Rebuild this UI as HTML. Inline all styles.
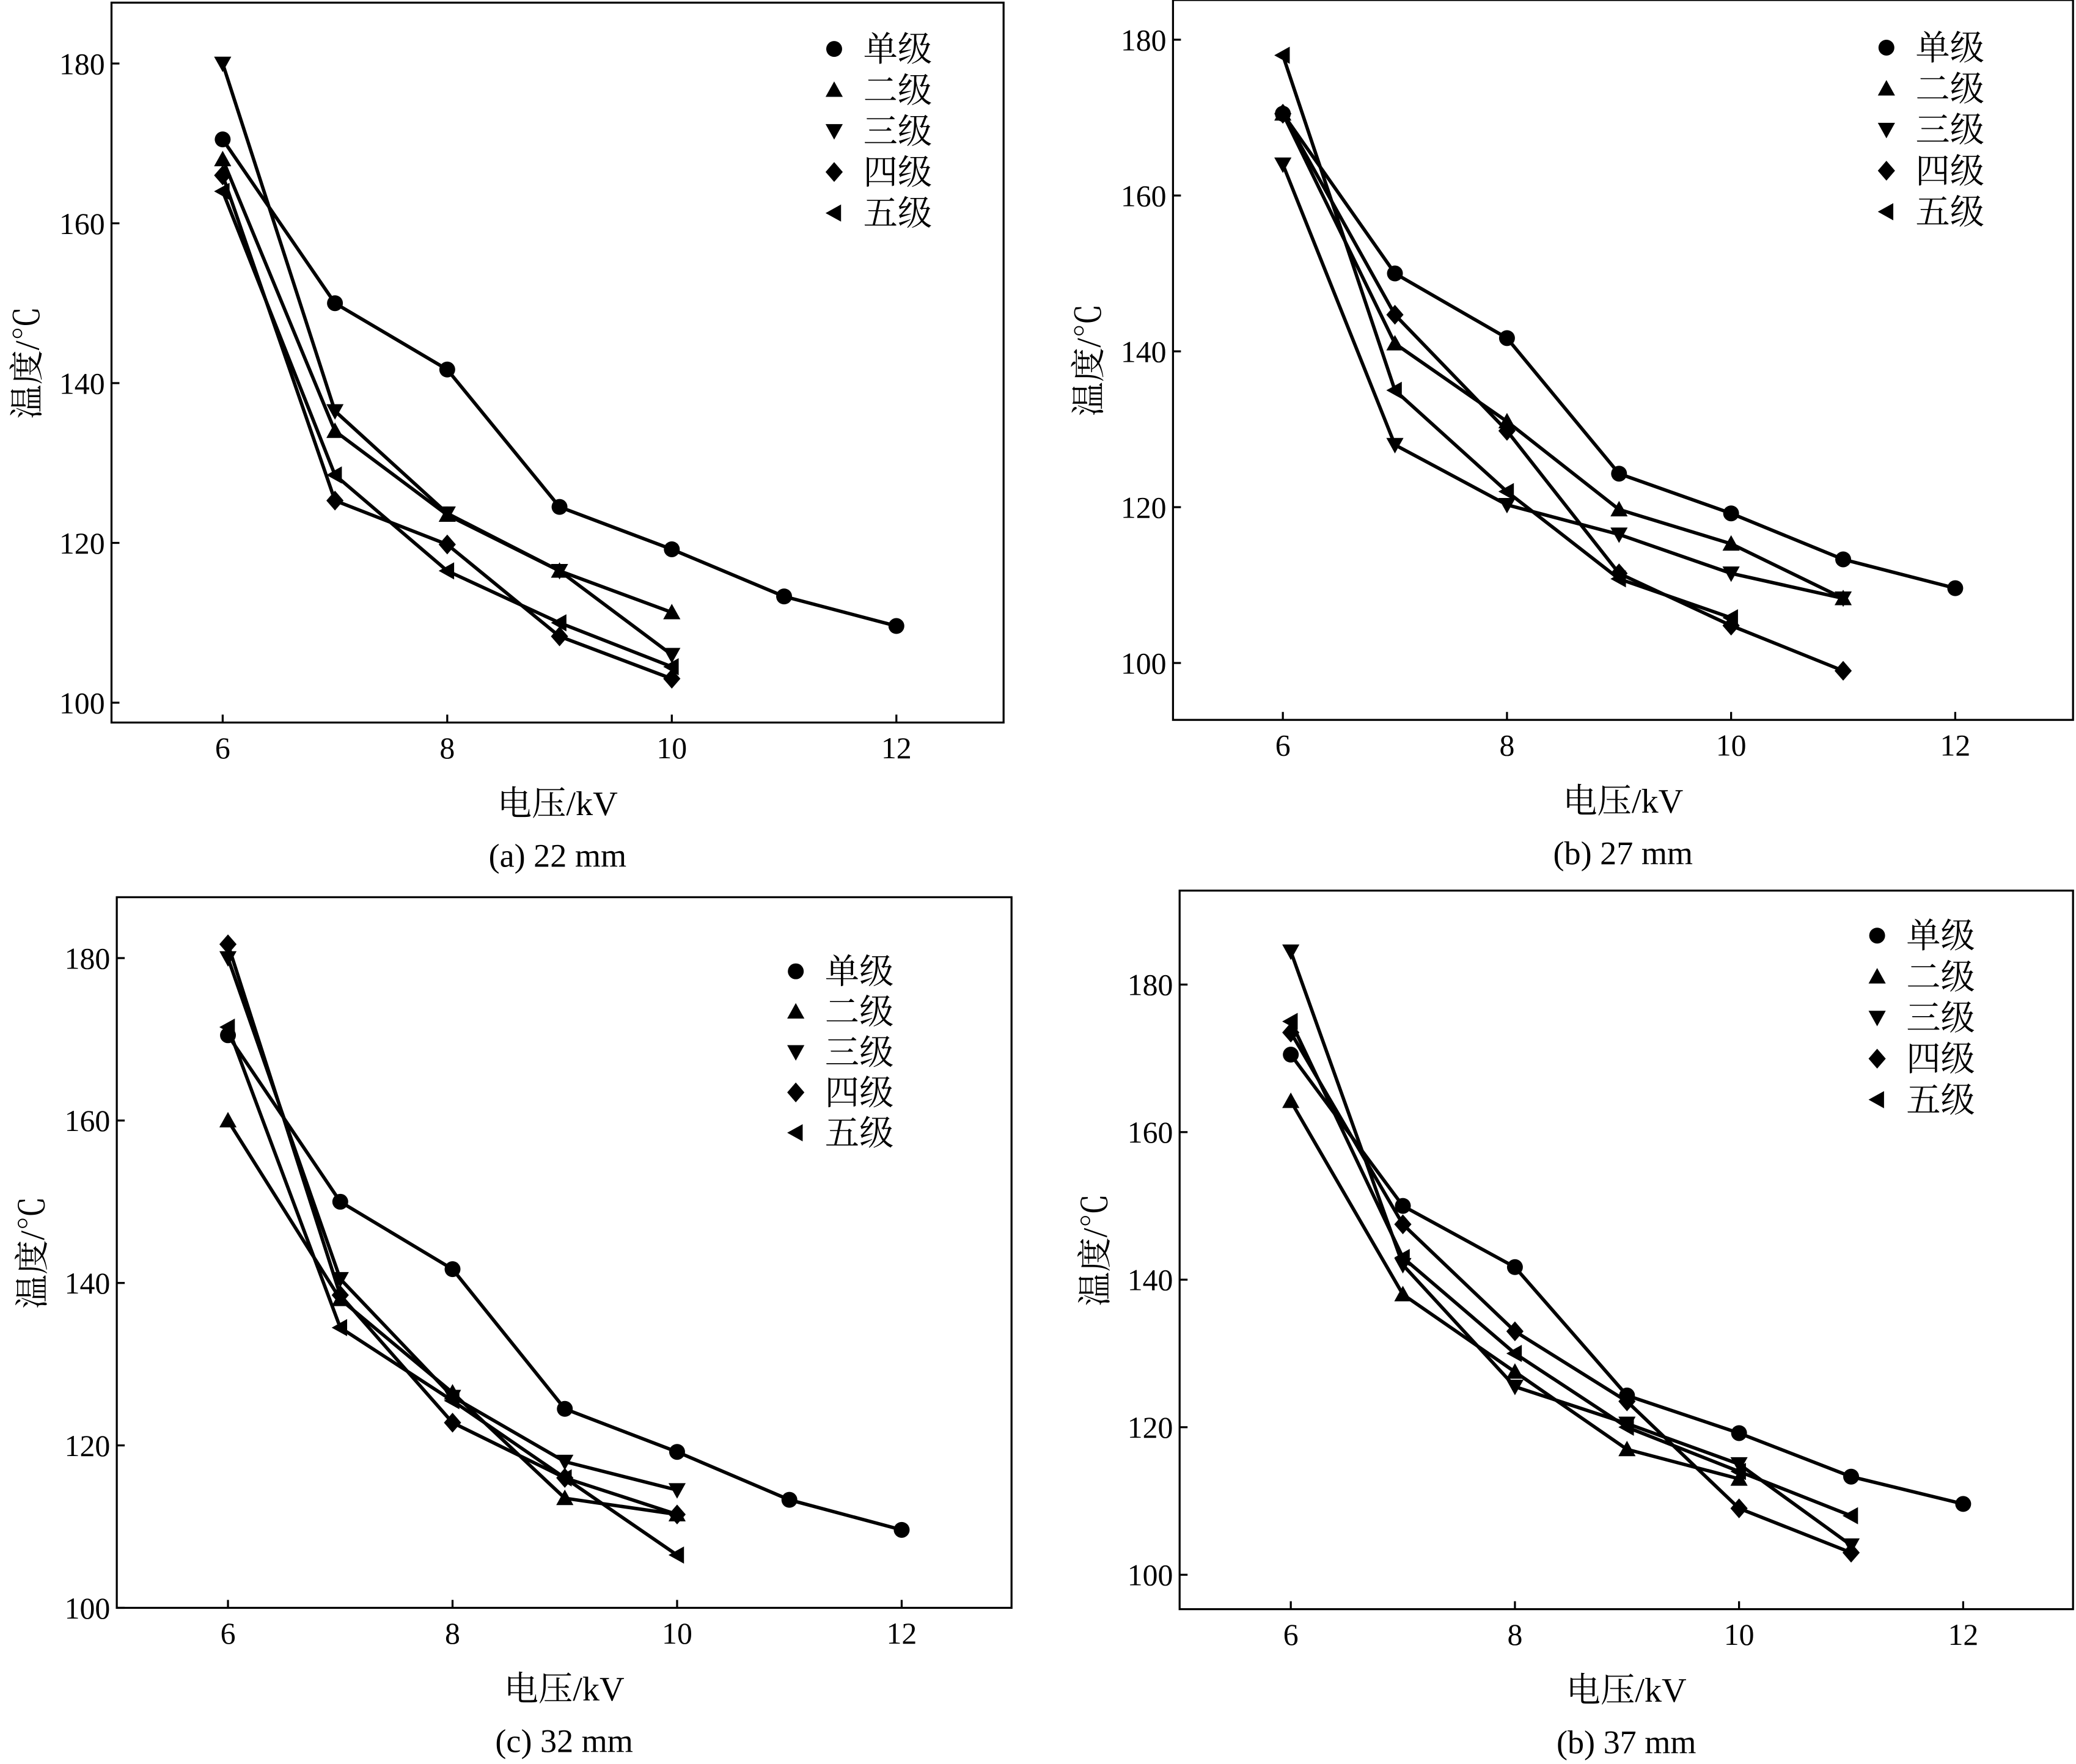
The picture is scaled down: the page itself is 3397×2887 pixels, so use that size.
<!DOCTYPE html>
<html><head><meta charset="utf-8"><style>
html,body{margin:0;padding:0;background:#fff}
svg{display:block}
text{font-family:"Liberation Serif","Noto Serif CJK SC",serif;fill:#000}
</style></head><body>
<svg id="chart" xmlns="http://www.w3.org/2000/svg" width="3397" height="2887" viewBox="0 0 1568 1333"></svg>
<script>
const xCategories = [6,7,8,9,10,11,12];
const seriesNames = ["单级","二级","三级","四级","五级"];
const markers = ["circle","up","down","diamond","left"];
const yTicks = [100,120,140,160,180];
const xTicks = [6,8,10,12];
// Panel (a) 22 mm
const a1 = [170.5,150,141.7,124.5,119.2,113.3,109.6];
const a2 = [168,134,123.5,116.5,111.3];
const a3 = [180,136.5,123.7,116.5,106];
const a4 = [166,125.3,119.8,108.3,103];
const a5 = [164,128.5,116.5,110,104.5];
// Panel (b) 27 mm
const b1 = [170.5,150,141.7,124.3,119.2,113.3,109.6];
const b2 = [170.5,141,131,119.7,115.3,108.3];
const b3 = [164,128,120.3,116.5,111.5,108.3];
const b4 = [170.5,144.7,129.8,111.5,104.8,99];
const b5 = [178,135,122,110.8,105.8];
// Panel (c) 32 mm
const c1 = [170.5,150,141.7,124.5,119.2,113.3,109.6];
const c2 = [160,138,126.5,113.5,111.5];
const c3 = [180,140.5,126,118,114.5];
const c4 = [181.7,138.5,122.8,116,111.5];
const c5 = [171.5,134.5,125.5,116,106.5];
// Panel (d) 37 mm
const d1 = [170.5,150,141.7,124.3,119.2,113.3,109.6];
const d2 = [164.2,138,127.5,117,113];
const d3 = [184.5,142,125.5,120.5,115,104];
const d4 = [173.5,147.5,133,123.5,109,103];
const d5 = [175,143,130,120,114,108];

const panels = [
 {id:"a",cap:"(a) 22 mm",box:[84,2,758,546],x6:168,x12:677,y180:48,y100:531,leg:[630,37,31],data:[a1,a2,a3,a4,a5]},
 {id:"b",cap:"(b) 27 mm",box:[886,0,1566,544],x6:969,x12:1477,y180:30,y100:501,leg:[1425,36,31],data:[b1,b2,b3,b4,b5]},
 {id:"c",cap:"(c) 32 mm",box:[88,678,764,1215],x6:172,x12:681,y180:724,y100:1215,leg:[601,734,30.5],data:[c1,c2,c3,c4,c5]},
 {id:"d",cap:"(b) 37 mm",box:[891,673,1566,1216],x6:975,x12:1483,y180:744,y100:1190,leg:[1418,707,31],data:[d1,d2,d3,d4,d5]}
];
const NS="http://www.w3.org/2000/svg";
const svg=document.getElementById("chart");
function mk(tag,attrs,parent){const e=document.createElementNS(NS,tag);for(const k in attrs)e.setAttribute(k,attrs[k]);(parent||svg).appendChild(e);return e;}
function marker(type,x,y,g){
 const s=6.5;let e;
 if(type==="circle")e=mk("circle",{cx:x,cy:y,r:6},g);
 else if(type==="up")e=mk("polygon",{points:`${x},${y-s} ${x-s},${y+s*0.8} ${x+s},${y+s*0.8}`},g);
 else if(type==="down")e=mk("polygon",{points:`${x},${y+s} ${x-s},${y-s*0.8} ${x+s},${y-s*0.8}`},g);
 else if(type==="diamond")e=mk("polygon",{points:`${x},${y-s-1} ${x+s},${y} ${x},${y+s+1} ${x-s},${y}`},g);
 else e=mk("polygon",{points:`${x-s},${y} ${x+s*0.8},${y-s} ${x+s*0.8},${y+s}`},g);
 e.setAttribute("fill","#000");
 return e;
}
panels.forEach(p=>{
 const g=mk("g",{});
 
 
 const sx=v=>p.x6+(v-6)*(p.x12-p.x6)/6;
 const sy=v=>p.y100+(v-100)*(p.y180-p.y100)/80;
 const [x0,y0,x1,y1]=p.box;
 const fr=mk("rect",{x:x0,y:y0,width:x1-x0,height:y1-y0,fill:"none",stroke:"#000","stroke-width":1.5},g);
 
 
 yTicks.forEach(t=>{
  const y=sy(t);
  mk("line",{x1:x0,y1:y,x2:x0+6,y2:y,stroke:"#000","stroke-width":1.5},g);
  const tx=mk("text",{x:x0-5,y:y+8,"text-anchor":"end","font-size":23},g);tx.textContent=t;
  
  
 });
 xTicks.forEach(t=>{
  const x=sx(t);
  mk("line",{x1:x,y1:y1,x2:x,y2:y1-6,stroke:"#000","stroke-width":1.5},g);
  const tx=mk("text",{x:x,y:y1+27,"text-anchor":"middle","font-size":23},g);tx.textContent=t;
  
  
 });
 const cx=(x0+x1)/2;
 const yt=mk("text",{x:0,y:0,"text-anchor":"middle","font-size":26,transform:`translate(${x0-55},${(y0+y1)/2}) rotate(-90)`},g);
 yt.textContent="温度/℃";
 
 
 const xt=mk("text",{x:cx,y:y1+70,"text-anchor":"middle","font-size":26},g);
 xt.textContent="电压/kV";
 
 
 const cp=mk("text",{x:cx,y:y1+109,"text-anchor":"middle","font-size":25},g);
 cp.textContent=p.cap;
 
 
 p.data.forEach((vals,si)=>{
  const pts=vals.map((v,i)=>sx(xCategories[i])+","+sy(v)).join(" ");
  const ln=mk("polyline",{points:pts,fill:"none",stroke:"#000","stroke-width":2.6},g);
  
  
  vals.forEach((v,i)=>{
   const m=marker(markers[si],sx(xCategories[i]),sy(v),g);
   
   
  });
 });
 const [lx,ly,ld]=p.leg;
 seriesNames.forEach((n,si)=>{
  const y=ly+si*ld;
  const m=marker(markers[si],lx,y,g);
  
  
  const t=mk("text",{x:lx+22,y:y+9,"font-size":26},g);t.textContent=n;
  
  
 });
});
</script>
</body></html>
